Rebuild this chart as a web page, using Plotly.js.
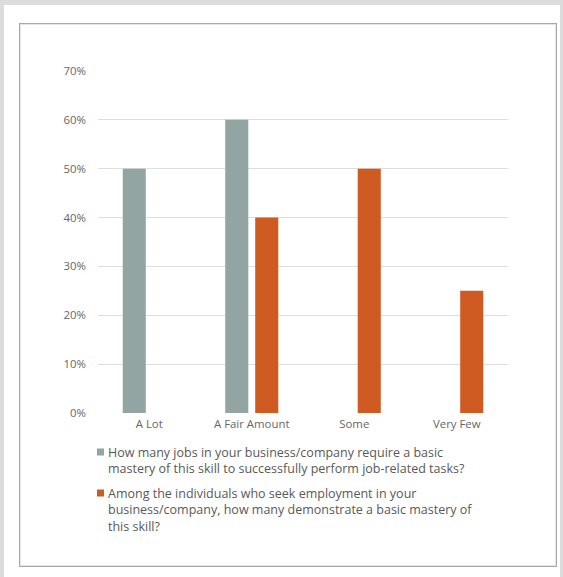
<!DOCTYPE html>
<html>
<head>
<meta charset="utf-8">
<script src="https://cdn.plot.ly/plotly-3.0.1.min.js"></script>
<style>
  html, body { margin: 0; padding: 0; }
  body { width: 563px; height: 577px; background: #dcdcdc; position: relative; overflow: hidden; }
  #sheet { position: absolute; left: 4px; top: 5px; width: 556px; height: 572px; background: #ffffff; }
  #frame { position: absolute; left: 19px; top: 23px; width: 536px; height: 542px;
           border: 1.5px solid #a9a9a9; box-shadow: inset 0 0 0 1px #e4e4e4; }
  #chart { position: absolute; left: 0; top: 0; width: 563px; height: 577px; }
</style>
</head>
<body>
<div id="sheet"></div>
<div id="frame"></div>
<div id="chart"></div>
<script>
// Response categories along the x axis
const categories = ["A Lot", "A Fair Amount", "Some", "Very Few"];

// Share of respondents (%) for each question
const jobsRequire = [50, 60, null, null];
const applicantsDemonstrate = [null, 40, 50, 25];

// Question wording shown in the key
const seriesNames = [
  "How many jobs in your business/company require a basic<br>mastery of this skill to successfully perform job-related tasks?",
  "Among the individuals who seek employment in your<br>business/company, how many demonstrate a basic mastery of<br>this skill?"
];

// Y axis ticks
const yTicks = [0, 10, 20, 30, 40, 50, 60, 70];
const yTickLabels = ["0%", "10%", "20%", "30%", "40%", "50%", "60%", "70%"];

const seriesColors = ["#93a5a3", "#cf5a22"];
const fontFamily = "'Open Sans', Lato, sans-serif";

// Plot area in page pixels
const W = 563, H = 577;
const plotL = 98, plotR = 508, plotT = 71, plotB = 413;
const px = x => (x - plotL) / (plotR - plotL);
const py = y => (plotB - y) / (plotB - plotT);

const traces = [
  { type: "bar", x: categories, y: jobsRequire, name: seriesNames[0],
    marker: { color: seriesColors[0] }, hoverinfo: "x+y" },
  { type: "bar", x: categories, y: applicantsDemonstrate, name: seriesNames[1],
    marker: { color: seriesColors[1] }, hoverinfo: "x+y" }
];

// Hand-built key: small colour square plus wrapped question text
const keyTops = [442, 483];
const shapes = [];
const annotations = [];
seriesNames.forEach((name, i) => {
  const top = keyTops[i];
  shapes.push({
    type: "rect", xref: "paper", yref: "paper",
    x0: px(97), x1: px(104), y0: py(top + 6.5), y1: py(top + 13.5),
    fillcolor: seriesColors[i], line: { width: 0 }
  });
  annotations.push({
    xref: "paper", yref: "paper", x: px(106), y: py(top),
    xanchor: "left", yanchor: "top", align: "left", showarrow: false,
    text: name, font: { family: fontFamily, size: 12.5, color: "#595959" }
  });
});

const layout = {
  width: W, height: H,
  margin: { l: plotL, r: W - plotR, t: plotT, b: H - plotB, pad: 0 },
  paper_bgcolor: "rgba(0,0,0,0)",
  plot_bgcolor: "rgba(0,0,0,0)",
  barmode: "group",
  bargap: 0.415,
  bargroupgap: 0.23,
  showlegend: false,
  font: { family: fontFamily, color: "#666666" },
  xaxis: {
    type: "category",
    showgrid: false, zeroline: false, showline: false,
    ticks: "", ticklabelstandoff: 3,
    tickfont: { family: fontFamily, size: 11.4, color: "#666666" }
  },
  yaxis: {
    range: [0, 70],
    tickvals: yTicks, ticktext: yTickLabels,
    showgrid: true, gridcolor: "#dedede", gridwidth: 1,
    zeroline: false, showline: false,
    ticks: "", ticklabelstandoff: 11,
    tickfont: { family: fontFamily, size: 11.4, color: "#666666" }
  },
  shapes: shapes,
  annotations: annotations
};

Plotly.newPlot("chart", traces, layout, { displayModeBar: false, staticPlot: true });
</script>
</body>
</html>
